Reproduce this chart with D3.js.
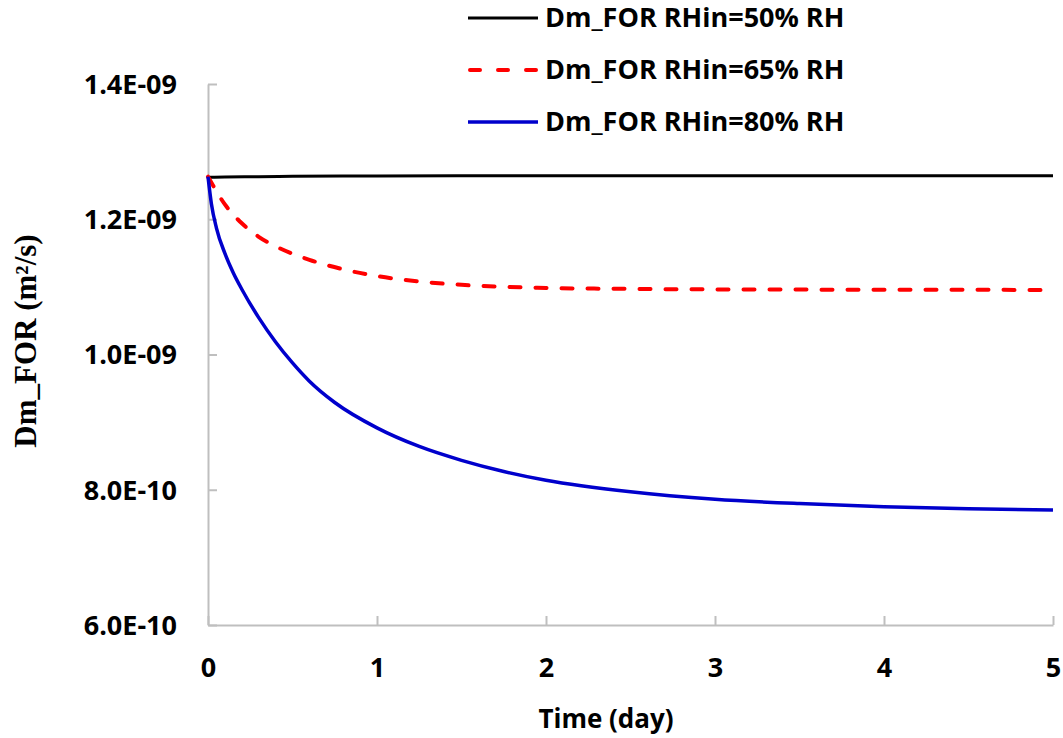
<!DOCTYPE html>
<html>
<head>
<meta charset="utf-8">
<script src="https://cdn.jsdelivr.net/npm/d3@7"></script>
<style>
  html, body { margin: 0; padding: 0; background: #fff; }
  svg { display: block; }
</style>
</head>
<body>
<svg id="chart" width="1063" height="738"></svg>
<script>
// Diffusion coefficient over time for three inlet humidity levels
const seriesNames = ["Dm_FOR RHin=50% RH", "Dm_FOR RHin=65% RH", "Dm_FOR RHin=80% RH"];

const timeRH50 = [0, 0.1, 0.3, 0.5, 1, 2, 3, 4, 5];
const dmRH50 = [1.262e-9, 1.2625e-9, 1.263e-9, 1.2635e-9, 1.264e-9, 1.2643e-9, 1.2644e-9, 1.2645e-9, 1.2645e-9];

const timeRH65 = [0, 0.1, 0.2, 0.3, 0.4, 0.5, 0.6, 0.8, 1.0, 1.25, 1.5, 2, 2.5, 3, 4, 5];
const dmRH65 = [1.263e-9, 1.222e-9, 1.194e-9, 1.174e-9, 1.160e-9, 1.149e-9, 1.140e-9, 1.126e-9, 1.116e-9,
                1.108e-9, 1.103e-9, 1.0985e-9, 1.097e-9, 1.0963e-9, 1.0958e-9, 1.0955e-9];

const timeRH80 = [0, 0.02, 0.05, 0.1, 0.15, 0.2, 0.3, 0.4, 0.5, 0.6, 0.75, 1.0, 1.25, 1.5, 1.75,
                  2.0, 2.5, 3.0, 3.5, 4.0, 4.5, 5.0];
const dmRH80 = [1.263e-9, 1.223e-9, 1.187e-9, 1.1495e-9, 1.1205e-9, 1.0965e-9, 1.0545e-9, 1.0185e-9, 0.9875e-9,
                0.9605e-9, 0.929e-9, 0.8915e-9, 0.864e-9, 0.8435e-9, 0.827e-9, 0.814e-9, 0.797e-9, 0.786e-9,
                0.7795e-9, 0.775e-9, 0.772e-9, 0.770e-9];

const xTicks = [0, 1, 2, 3, 4, 5];
const yTicks = [6e-10, 8e-10, 1.0e-9, 1.2e-9, 1.4e-9];

const xTitle = "Time (day)";
const yTitle = "Dm_FOR (m²/s)";

const seriesColors = ["#000000", "#ff0000", "#0000cc"];
const seriesDash = [null, "11,15", null];
const seriesWidth = [3, 4, 3.5];

const series = [
  { name: seriesNames[0], t: timeRH50, v: dmRH50 },
  { name: seriesNames[1], t: timeRH65, v: dmRH65 },
  { name: seriesNames[2], t: timeRH80, v: dmRH80 }
];

const svg = d3.select("#chart");
const sansBold = "'Open Sans', 'DejaVu Sans', sans-serif";

const x = d3.scaleLinear().domain([0, 5]).range([208, 1053]);
const y = d3.scaleLinear().domain([6e-10, 1.4e-9]).range([625, 84]);

// Excel-like scientific labels, e.g. 1.4E-09
function sciLabel(v) {
  const s = v.toExponential(1).toUpperCase();
  const m = s.match(/^([\d.]+)E([+-])(\d+)$/);
  return m[1] + "E" + m[2] + m[3].padStart(2, "0");
}

const axisColor = "#bfbfbf";

// Y axis
const yAxis = svg.append("g")
  .attr("transform", `translate(${x(0)},0)`)
  .call(d3.axisLeft(y).tickValues(yTicks).tickSizeInner(-9).tickSizeOuter(0).tickFormat(sciLabel));
yAxis.select(".domain").attr("stroke", axisColor).attr("stroke-width", 2);
yAxis.selectAll(".tick line").attr("stroke", axisColor).attr("stroke-width", 2);
yAxis.selectAll(".tick text")
  .attr("x", -31)
  .attr("dy", "0.35em")
  .attr("fill", "#000")
  .style("font-family", sansBold)
  .style("font-weight", "bold")
  .style("font-size", "27px");

// X axis
const xAxis = svg.append("g")
  .attr("transform", `translate(0,${y(6e-10)})`)
  .call(d3.axisBottom(x).tickValues(xTicks).tickSizeInner(-9).tickSizeOuter(0).tickFormat(d3.format("d")));
xAxis.select(".domain").attr("stroke", axisColor).attr("stroke-width", 2);
xAxis.selectAll(".tick line").attr("stroke", axisColor).attr("stroke-width", 2);
xAxis.selectAll(".tick text")
  .attr("y", 52)
  .attr("dy", 0)
  .attr("fill", "#000")
  .style("font-family", sansBold)
  .style("font-weight", "bold")
  .style("font-size", "27px");

// Series lines
const line = d3.line()
  .x(d => x(d[0]))
  .y(d => y(d[1]))
  .curve(d3.curveMonotoneX);

series.forEach((s, i) => {
  svg.append("path")
    .datum(s.t.map((t, k) => [t, s.v[k]]))
    .attr("fill", "none")
    .attr("stroke", seriesColors[i])
    .attr("stroke-width", seriesWidth[i])
    .attr("stroke-linecap", seriesDash[i] ? "round" : "butt")
    .attr("stroke-dasharray", seriesDash[i])
    .attr("d", line);
});

// Axis titles
svg.append("text")
  .attr("x", 606)
  .attr("y", 728)
  .attr("text-anchor", "middle")
  .style("font-family", sansBold)
  .style("font-weight", "bold")
  .style("font-size", "26px")
  .text(xTitle);

svg.append("text")
  .attr("transform", "translate(36,341) rotate(-90)")
  .attr("text-anchor", "middle")
  .style("font-family", "'Liberation Serif', 'Times New Roman', serif")
  .style("font-weight", "bold")
  .style("font-size", "31px")
  .text(yTitle);

// Legend
const legend = svg.append("g");
const legendRows = [18, 70, 122];
series.forEach((s, i) => {
  const g = legend.append("g").attr("transform", `translate(0,${legendRows[i]})`);
  g.append("line")
    .attr("x1", seriesDash[i] ? 470 : 468)
    .attr("x2", seriesDash[i] ? 536 : 538)
    .attr("stroke", seriesColors[i])
    .attr("stroke-width", seriesWidth[i])
    .attr("stroke-linecap", seriesDash[i] ? "round" : "butt")
    .attr("stroke-dasharray", seriesDash[i] ? "10,18" : null);
  g.append("text")
    .attr("x", 545)
    .attr("y", 9)
    .style("font-family", sansBold)
    .style("font-weight", "bold")
    .style("font-size", "27px")
    .text(s.name);
});
</script>
</body>
</html>
